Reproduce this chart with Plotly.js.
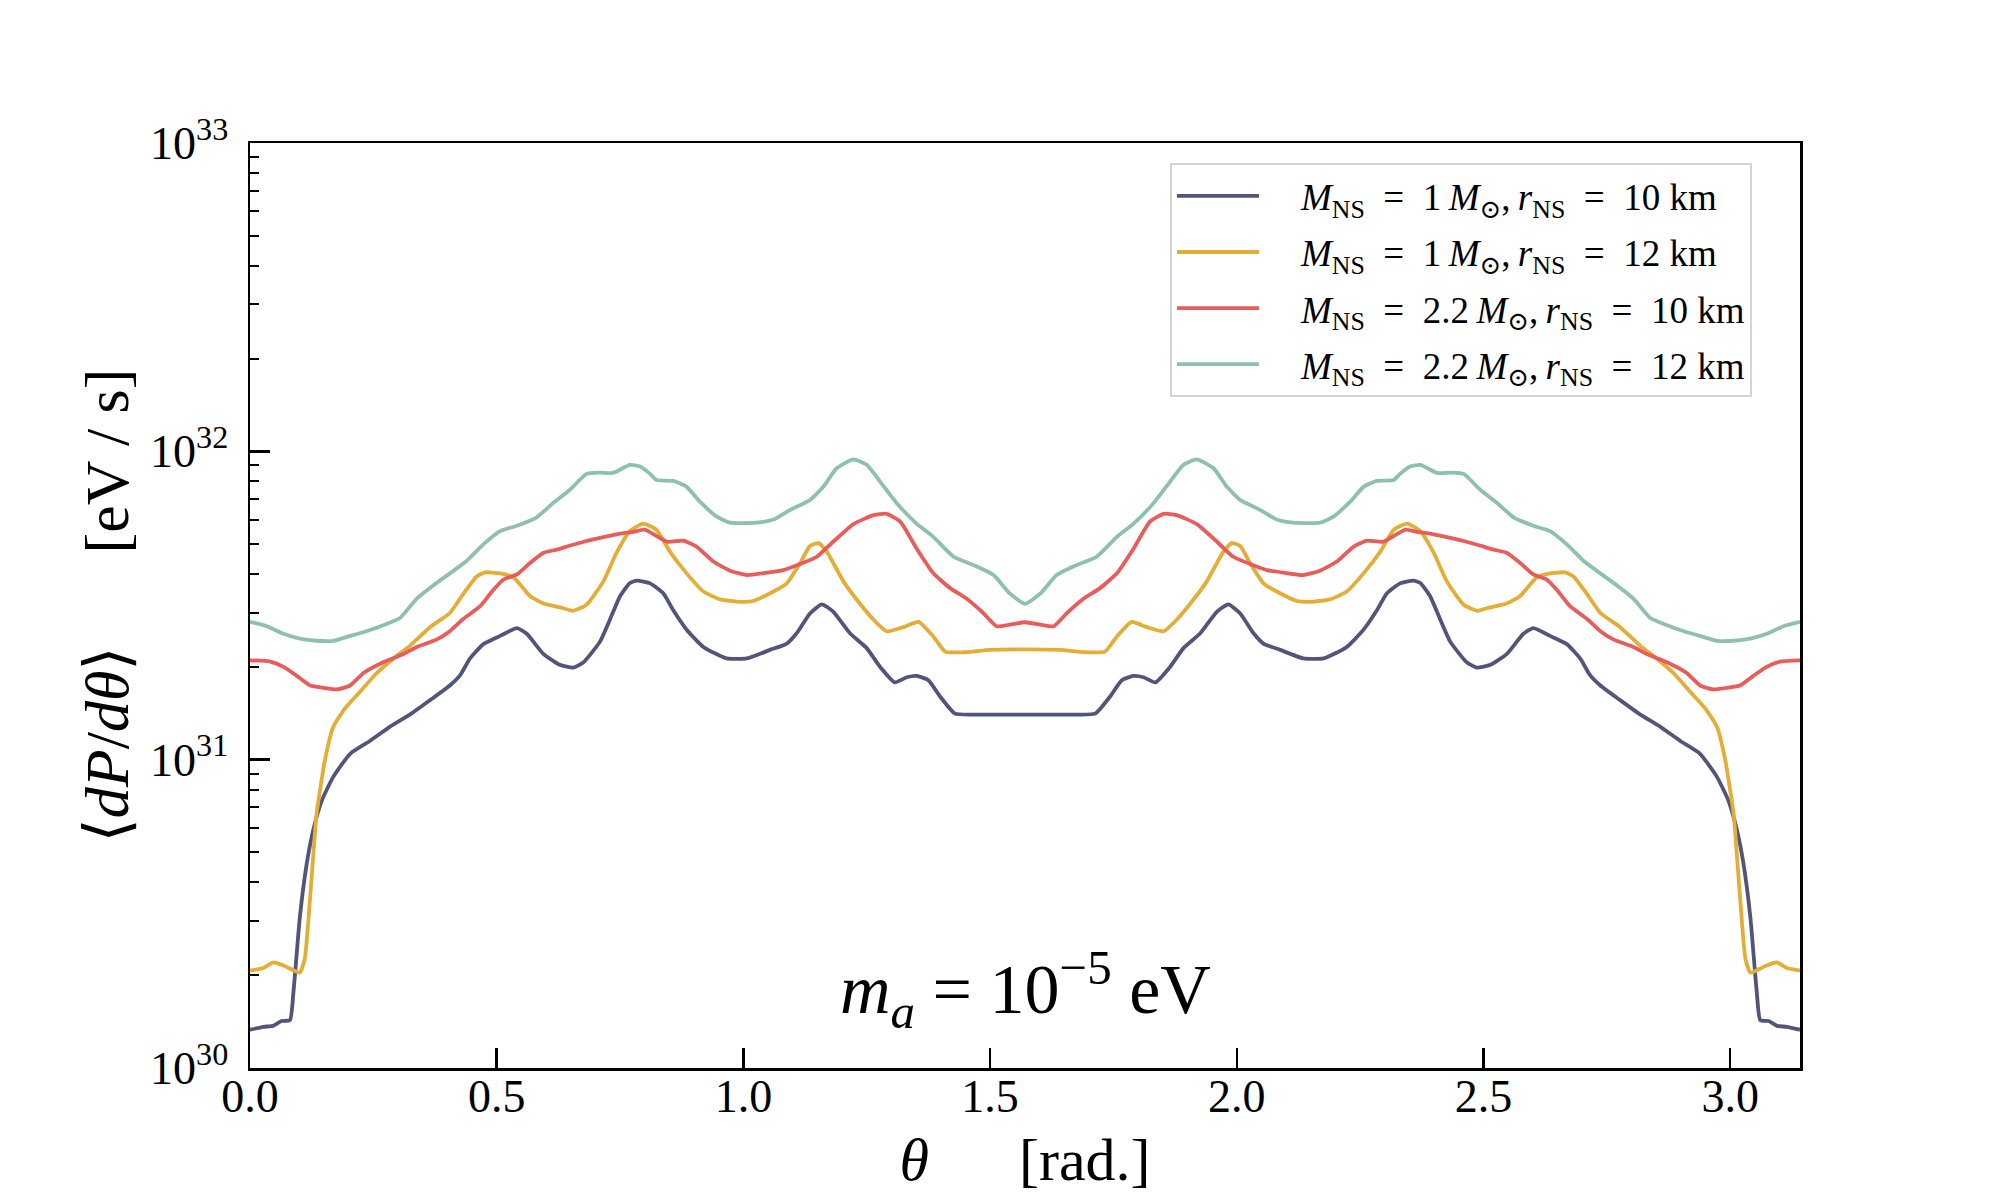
<!DOCTYPE html>
<html>
<head>
<meta charset="utf-8">
<script src="https://cdn.plot.ly/plotly-3.0.1.min.js"></script>
<style>
  body { margin: 0; background: #ffffff; }
  #chart { width: 2000px; height: 1200px; }
</style>
</head>
<body>
<div id="chart"></div>
<script>
// dP/dtheta in eV/s (m_a = 1e-5 eV)

// M = 1 Msun, r = 10 km
var thetaA = [0, 0.027, 0.047, 0.064, 0.081, 0.088, 0.101, 0.115, 0.128, 0.145, 0.169, 0.203, 0.243, 0.284,
  0.324, 0.365, 0.405, 0.426, 0.446, 0.473, 0.507, 0.541, 0.561, 0.595, 0.628, 0.655, 0.676, 0.709,
  0.730, 0.750, 0.770, 0.784, 0.811, 0.838, 0.858, 0.885, 0.919, 0.966, 1.007, 1.054, 1.088, 1.108,
  1.135, 1.159, 1.182, 1.216, 1.250, 1.277, 1.307, 1.331, 1.351, 1.375, 1.399, 1.429, 1.466, 1.571,
  1.676, 1.713, 1.743, 1.767, 1.791, 1.811, 1.835, 1.865, 1.892, 1.926, 1.960, 1.983, 2.007, 2.034,
  2.054, 2.088, 2.135, 2.176, 2.223, 2.257, 2.284, 2.304, 2.331, 2.358, 2.372, 2.392, 2.412, 2.433,
  2.466, 2.487, 2.514, 2.547, 2.581, 2.601, 2.635, 2.669, 2.696, 2.716, 2.737, 2.777, 2.818, 2.858,
  2.899, 2.939, 2.973, 2.997, 3.014, 3.027, 3.041, 3.054, 3.061, 3.078, 3.095, 3.115, 3.1416];
var powA = [1.33e30, 1.36e30, 1.37e30, 1.42e30, 1.43e30, 1.76e30, 3.08e30, 4.60e30, 5.89e30, 7.33e30,
  8.81e30, 1.045e31, 1.15e31, 1.28e31, 1.40e31, 1.56e31, 1.74e31, 1.88e31, 2.13e31, 2.37e31, 2.52e31,
  2.67e31, 2.56e31, 2.20e31, 2.03e31, 1.99e31, 2.07e31, 2.41e31, 2.86e31, 3.39e31, 3.74e31, 3.81e31,
  3.73e31, 3.46e31, 3.05e31, 2.64e31, 2.32e31, 2.13e31, 2.13e31, 2.27e31, 2.38e31, 2.57e31, 2.98e31,
  3.19e31, 3.02e31, 2.57e31, 2.30e31, 2.00e31, 1.78e31, 1.85e31, 1.87e31, 1.81e31, 1.60e31, 1.41e31,
  1.40e31, 1.40e31,
  1.40e31, 1.41e31, 1.60e31, 1.81e31, 1.87e31, 1.85e31, 1.78e31, 2.00e31, 2.30e31, 2.57e31, 3.02e31,
  3.19e31, 2.98e31, 2.57e31, 2.38e31, 2.27e31, 2.13e31, 2.13e31, 2.32e31, 2.64e31, 3.05e31, 3.46e31,
  3.73e31, 3.81e31, 3.74e31, 3.39e31, 2.86e31, 2.41e31, 2.07e31, 1.99e31, 2.03e31, 2.20e31, 2.56e31,
  2.67e31, 2.52e31, 2.37e31, 2.13e31, 1.88e31, 1.74e31, 1.56e31, 1.40e31, 1.28e31, 1.15e31, 1.045e31,
  8.81e30, 7.33e30, 5.89e30, 4.60e30, 3.08e30, 1.76e30, 1.43e30, 1.42e30, 1.37e30, 1.36e30, 1.33e30];

// M = 1 Msun, r = 12 km
var thetaB = [0, 0.027, 0.047, 0.068, 0.084, 0.101, 0.111, 0.122, 0.135, 0.152, 0.169, 0.193, 0.223, 0.257,
  0.291, 0.324, 0.365, 0.405, 0.432, 0.459, 0.476, 0.507, 0.534, 0.568, 0.595, 0.628, 0.655, 0.682,
  0.716, 0.743, 0.770, 0.797, 0.824, 0.851, 0.885, 0.919, 0.953, 0.993, 1.020, 1.061, 1.088, 1.115,
  1.135, 1.152, 1.169, 1.203, 1.230, 1.264, 1.290, 1.324, 1.355, 1.385, 1.409, 1.446, 1.500, 1.571,
  1.642, 1.696, 1.733, 1.757, 1.787, 1.818, 1.852, 1.878, 1.912, 1.939, 1.973, 1.990, 2.007, 2.027,
  2.054, 2.081, 2.122, 2.149, 2.189, 2.223, 2.257, 2.291, 2.318, 2.345, 2.372, 2.399, 2.426, 2.460,
  2.487, 2.514, 2.547, 2.574, 2.608, 2.635, 2.666, 2.683, 2.710, 2.737, 2.777, 2.818, 2.851, 2.885,
  2.919, 2.949, 2.973, 2.990, 3.007, 3.020, 3.031, 3.041, 3.058, 3.074, 3.095, 3.115, 3.1416];
var powB = [2.07e30, 2.11e30, 2.20e30, 2.15e30, 2.09e30, 2.04e30, 2.26e30, 3.59e30, 6.67e30, 9.98e30,
  1.28e31, 1.47e31, 1.66e31, 1.91e31, 2.13e31, 2.34e31, 2.69e31, 2.99e31, 3.44e31, 3.92e31, 4.05e31,
  4.02e31, 3.90e31, 3.39e31, 3.21e31, 3.12e31, 3.04e31, 3.18e31, 3.78e31, 4.69e31, 5.51e31, 5.83e31,
  5.56e31, 4.73e31, 4.02e31, 3.51e31, 3.31e31, 3.25e31, 3.27e31, 3.51e31, 3.73e31, 4.34e31, 4.93e31,
  5.04e31, 4.73e31, 3.78e31, 3.30e31, 2.84e31, 2.61e31, 2.69e31, 2.80e31, 2.51e31, 2.24e31, 2.23e31,
  2.27e31, 2.28e31,
  2.27e31, 2.23e31, 2.24e31, 2.51e31, 2.80e31, 2.69e31, 2.61e31, 2.84e31, 3.30e31, 3.78e31, 4.73e31,
  5.04e31, 4.93e31, 4.34e31, 3.73e31, 3.51e31, 3.27e31, 3.25e31, 3.31e31, 3.51e31, 4.02e31, 4.73e31,
  5.56e31, 5.83e31, 5.51e31, 4.69e31, 3.78e31, 3.18e31, 3.04e31, 3.12e31, 3.21e31, 3.39e31, 3.90e31,
  4.02e31, 4.05e31, 3.92e31, 3.44e31, 2.99e31, 2.69e31, 2.34e31, 2.13e31, 1.91e31, 1.66e31, 1.47e31,
  1.28e31, 9.98e30, 6.67e30, 3.59e30, 2.26e30, 2.04e30, 2.09e30, 2.15e30, 2.20e30, 2.11e30, 2.07e30];

// M = 2.2 Msun, r = 10 km
var thetaC = [0, 0.041, 0.068, 0.095, 0.122, 0.149, 0.176, 0.203, 0.230, 0.270, 0.311, 0.338, 0.378, 0.405,
  0.432, 0.466, 0.493, 0.514, 0.541, 0.568, 0.595, 0.622, 0.649, 0.682, 0.716, 0.750, 0.777, 0.800,
  0.845, 0.878, 0.905, 0.939, 0.973, 1.007, 1.047, 1.081, 1.115, 1.149, 1.182, 1.223, 1.264, 1.290,
  1.318, 1.351, 1.385, 1.419, 1.452, 1.486, 1.513, 1.540, 1.571,
  1.602, 1.629, 1.656, 1.690, 1.723, 1.757, 1.791, 1.824, 1.852, 1.878, 1.919, 1.960, 1.993, 2.027,
  2.061, 2.095, 2.135, 2.169, 2.203, 2.237, 2.264, 2.297, 2.342, 2.365, 2.392, 2.426, 2.460, 2.493,
  2.520, 2.547, 2.574, 2.601, 2.628, 2.649, 2.676, 2.710, 2.737, 2.764, 2.804, 2.831, 2.872, 2.912,
  2.939, 2.966, 2.993, 3.020, 3.047, 3.074, 3.101, 3.1416];
var powC = [2.10e31, 2.08e31, 2.00e31, 1.87e31, 1.74e31, 1.71e31, 1.69e31, 1.74e31, 1.91e31, 2.07e31,
  2.20e31, 2.32e31, 2.45e31, 2.61e31, 2.86e31, 3.14e31, 3.55e31, 3.84e31, 3.99e31, 4.35e31, 4.69e31,
  4.80e31, 4.95e31, 5.12e31, 5.27e31, 5.41e31, 5.48e31, 5.57e31, 5.09e31, 5.13e31, 4.91e31, 4.39e31,
  4.10e31, 3.97e31, 4.04e31, 4.12e31, 4.31e31, 4.55e31, 5.09e31, 5.81e31, 6.21e31, 6.27e31, 5.92e31,
  4.84e31, 4.02e31, 3.60e31, 3.33e31, 2.99e31, 2.71e31, 2.74e31, 2.79e31,
  2.74e31, 2.71e31, 2.99e31, 3.33e31, 3.60e31, 4.02e31, 4.84e31, 5.92e31, 6.27e31, 6.21e31, 5.81e31,
  5.09e31, 4.55e31, 4.31e31, 4.12e31, 4.04e31, 3.97e31, 4.10e31, 4.39e31, 4.91e31, 5.13e31, 5.09e31,
  5.57e31, 5.48e31, 5.41e31, 5.27e31, 5.12e31, 4.95e31, 4.80e31, 4.69e31, 4.35e31, 3.99e31, 3.84e31,
  3.55e31, 3.14e31, 2.86e31, 2.61e31, 2.45e31, 2.32e31, 2.20e31, 2.07e31, 1.91e31, 1.74e31, 1.69e31,
  1.71e31, 1.74e31, 1.87e31, 2.00e31, 2.08e31, 2.10e31];

// M = 2.2 Msun, r = 12 km
var thetaD = [0, 0.034, 0.068, 0.101, 0.135, 0.169, 0.203, 0.236, 0.270, 0.304, 0.338, 0.372, 0.405, 0.439,
  0.473, 0.507, 0.541, 0.581, 0.615, 0.649, 0.682, 0.709, 0.736, 0.770, 0.791, 0.811, 0.824, 0.858,
  0.885, 0.912, 0.946, 0.973, 1.027, 1.061, 1.095, 1.135, 1.162, 1.189, 1.223, 1.250, 1.277, 1.311,
  1.351, 1.385, 1.426, 1.466, 1.507, 1.540, 1.571,
  1.602, 1.635, 1.676, 1.716, 1.757, 1.791, 1.831, 1.865, 1.892, 1.919, 1.953, 1.980, 2.007, 2.047,
  2.081, 2.115, 2.169, 2.196, 2.230, 2.257, 2.284, 2.318, 2.331, 2.351, 2.372, 2.406, 2.433, 2.460,
  2.493, 2.527, 2.561, 2.601, 2.635, 2.669, 2.703, 2.737, 2.770, 2.804, 2.838, 2.872, 2.906, 2.939,
  2.973, 3.007, 3.041, 3.074, 3.108, 3.1416];
var powD = [2.80e31, 2.71e31, 2.56e31, 2.47e31, 2.43e31, 2.43e31, 2.52e31, 2.61e31, 2.73e31, 2.88e31,
  3.33e31, 3.68e31, 4.02e31, 4.41e31, 4.99e31, 5.51e31, 5.74e31, 6.11e31, 6.81e31, 7.52e31, 8.45e31,
  8.53e31, 8.51e31, 9.04e31, 8.93e31, 8.45e31, 8.07e31, 8.02e31, 7.67e31, 6.87e31, 6.14e31, 5.87e31,
  5.87e31, 6.01e31, 6.46e31, 6.95e31, 7.67e31, 8.81e31, 9.42e31, 9.04e31, 7.98e31, 6.78e31, 5.83e31,
  5.28e31, 4.55e31, 4.28e31, 3.97e31, 3.46e31, 3.20e31,
  3.46e31, 3.97e31, 4.28e31, 4.55e31, 5.28e31, 5.83e31, 6.78e31, 7.98e31, 9.04e31, 9.42e31, 8.81e31,
  7.67e31, 6.95e31, 6.46e31, 6.01e31, 5.87e31, 5.87e31, 6.14e31, 6.87e31, 7.67e31, 8.02e31, 8.07e31,
  8.45e31, 8.93e31, 9.04e31, 8.51e31, 8.53e31, 8.45e31, 7.52e31, 6.81e31, 6.11e31, 5.74e31, 5.51e31,
  4.99e31, 4.41e31, 4.02e31, 3.68e31, 3.33e31, 2.88e31, 2.73e31, 2.61e31, 2.52e31, 2.43e31, 2.43e31,
  2.47e31, 2.56e31, 2.71e31, 2.80e31];

var names = [
  '\u2003<i>M</i><sub>NS</sub>\u2002=\u20021\u2009<i>M</i><sub>⊙</sub>,\u2009<i>r</i><sub>NS</sub>\u2002=\u200210 km',
  '\u2003<i>M</i><sub>NS</sub>\u2002=\u20021\u2009<i>M</i><sub>⊙</sub>,\u2009<i>r</i><sub>NS</sub>\u2002=\u200212 km',
  '\u2003<i>M</i><sub>NS</sub>\u2002=\u20022.2\u2009<i>M</i><sub>⊙</sub>,\u2009<i>r</i><sub>NS</sub>\u2002=\u200210 km',
  '\u2003<i>M</i><sub>NS</sub>\u2002=\u20022.2\u2009<i>M</i><sub>⊙</sub>,\u2009<i>r</i><sub>NS</sub>\u2002=\u200212 km'
];
var colors = ['#51557a', '#e4ad36', '#e85c5a', '#8ec1aa'];

var yTickVals = [1e30, 1e31, 1e32, 1e33];
var yTickText = ['10<sup>30</sup>', '10<sup>31</sup>', '10<sup>32</sup>', '10<sup>33</sup>'];
var xTickVals = [0, 0.5, 1.0, 1.5, 2.0, 2.5, 3.0];

var minorVals = [];
for (var d = 30; d < 33; d++) {
  for (var m = 2; m <= 9; m++) {
    minorVals.push(m * Math.pow(10, d));
  }
}

var serif = '"Liberation Serif", "DejaVu Serif", serif';

var xs = [thetaA, thetaB, thetaC, thetaD];
var ys = [powA, powB, powC, powD];
var data = [];
for (var i = 0; i < 4; i++) {
  data.push({
    x: xs[i],
    y: ys[i],
    name: names[i],
    legendgroup: 'g' + i,
    mode: 'lines',
    type: 'scatter',
    line: {color: colors[i], width: 3.8, shape: 'spline', smoothing: 0.5}
  });
}

var layout = {
  width: 2000,
  height: 1200,
  margin: {l: 250, r: 200, t: 143, b: 132},
  paper_bgcolor: '#ffffff',
  plot_bgcolor: '#ffffff',
  font: {family: serif, color: '#000000'},
  showlegend: true,
  legend: {
    x: 0.5935, y: 0.978, xanchor: 'left', yanchor: 'top',
    bgcolor: 'rgba(255,255,255,0.8)',
    bordercolor: '#d4d4d4', borderwidth: 2,
    font: {family: serif, size: 37, color: '#000000'},
    tracegroupgap: 5,
    itemwidth: 82
  },
  xaxis: {
    range: [0, Math.PI],
    tickmode: 'array',
    tickvals: xTickVals,
    tickformat: '.1f',
    ticks: 'inside',
    ticklen: 20,
    tickwidth: 2.5,
    tickcolor: '#000000',
    showline: true,
    linecolor: '#000000',
    linewidth: 2.5,
    mirror: true,
    showgrid: false,
    zeroline: false,
    tickfont: {family: serif, size: 46},
    ticklabelstandoff: -14,
    title: {
      text: '<i>θ</i>      [rad.]',
      font: {family: serif, size: 60},
      standoff: 18
    }
  },
  yaxis: {
    type: 'log',
    range: [30, 33],
    tickmode: 'array',
    tickvals: yTickVals,
    ticktext: yTickText,
    ticks: 'inside',
    ticklen: 20,
    tickwidth: 2.5,
    tickcolor: '#000000',
    minor: {
      tickmode: 'array',
      tickvals: minorVals,
      ticks: 'inside',
      ticklen: 9,
      tickwidth: 2,
      tickcolor: '#000000',
      showgrid: false
    },
    showline: true,
    linecolor: '#000000',
    linewidth: 2.5,
    mirror: true,
    showgrid: false,
    zeroline: false,
    tickfont: {family: serif, size: 46},
    ticklabelstandoff: 10,
    title: {
      text: '⟨<i>dP</i>/<i>dθ</i>⟩      [eV / s]',
      font: {family: serif, size: 62},
      standoff: 2
    }
  },
  annotations: [{
    xref: 'paper', yref: 'paper',
    x: 0.5, y: 0.085,
    xanchor: 'center', yanchor: 'middle',
    showarrow: false,
    text: '<i>m<sub>a</sub></i> = 10<sup>−5</sup> eV',
    font: {family: serif, size: 70, color: '#000000'}
  }]
};

Plotly.newPlot('chart', data, layout, {displayModeBar: false, staticPlot: true});
</script>
</body>
</html>
